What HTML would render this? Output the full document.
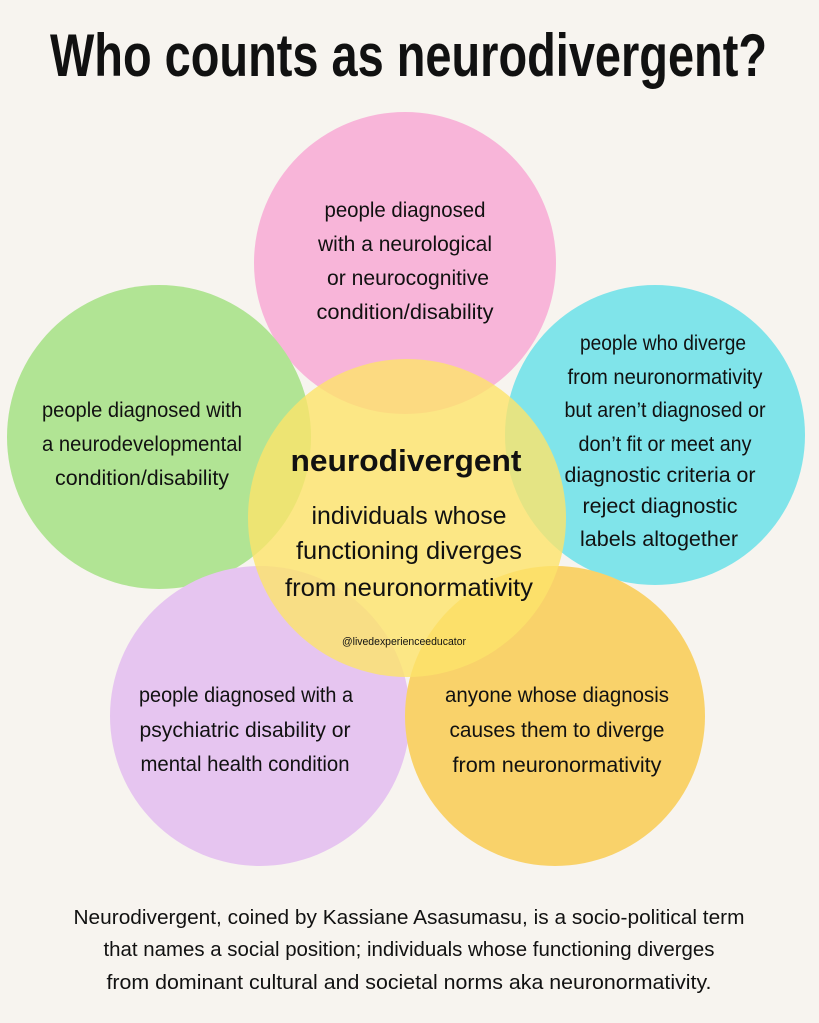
<!DOCTYPE html>
<html><head><meta charset="utf-8"><style>
html,body{margin:0;padding:0;background:#f7f4ef;}
svg{display:block;}
text{font-family:"Liberation Sans Narrow","Liberation Sans",sans-serif;fill:#111;}
</style></head><body>
<svg width="819" height="1023" viewBox="0 0 819 1023" xmlns="http://www.w3.org/2000/svg">
<rect width="819" height="1023" fill="#f7f4ef"/>
<circle cx="405" cy="263" r="151" fill="#f8b5d9"/>
<circle cx="159" cy="437" r="152" fill="#b1e494"/>
<circle cx="655" cy="435" r="150" fill="#80e4ea"/>
<circle cx="260" cy="716" r="150" fill="#e6c5f0"/>
<circle cx="555" cy="716" r="150" fill="#f9d26a"/>
<circle cx="407" cy="518" r="159" fill="#fde36a" fill-opacity="0.8"/>

<text x="50" y="76" font-size="60" font-weight="bold" textLength="717" lengthAdjust="spacingAndGlyphs">Who counts as neurodivergent?</text>

<g font-size="21" text-anchor="middle">
<text x="405" y="217" textLength="161" lengthAdjust="spacingAndGlyphs">people diagnosed</text>
<text x="405" y="251" textLength="174" lengthAdjust="spacingAndGlyphs">with a neurological</text>
<text x="408" y="285" textLength="162" lengthAdjust="spacingAndGlyphs">or neurocognitive</text>
<text x="405" y="319" textLength="177" lengthAdjust="spacingAndGlyphs">condition/disability</text>

<text x="142" y="417" textLength="200" lengthAdjust="spacingAndGlyphs">people diagnosed with</text>
<text x="142" y="451" textLength="200" lengthAdjust="spacingAndGlyphs">a neurodevelopmental</text>
<text x="142" y="485" textLength="174" lengthAdjust="spacingAndGlyphs">condition/disability</text>

<text x="663" y="350" textLength="166" lengthAdjust="spacingAndGlyphs">people who diverge</text>
<text x="665" y="384" textLength="195" lengthAdjust="spacingAndGlyphs">from neuronormativity</text>
<text x="665" y="417" textLength="201" lengthAdjust="spacingAndGlyphs">but aren’t diagnosed or</text>
<text x="665" y="451" textLength="173" lengthAdjust="spacingAndGlyphs">don’t fit or meet any</text>
<text x="660" y="482" textLength="191" lengthAdjust="spacingAndGlyphs">diagnostic criteria or</text>
<text x="660" y="513" textLength="155" lengthAdjust="spacingAndGlyphs">reject diagnostic</text>
<text x="659" y="546" textLength="158" lengthAdjust="spacingAndGlyphs">labels altogether</text>

<text x="246" y="702" textLength="214" lengthAdjust="spacingAndGlyphs">people diagnosed with a</text>
<text x="245" y="737" textLength="211" lengthAdjust="spacingAndGlyphs">psychiatric disability or</text>
<text x="245" y="771" textLength="209" lengthAdjust="spacingAndGlyphs">mental health condition</text>

<text x="557" y="702" textLength="224" lengthAdjust="spacingAndGlyphs">anyone whose diagnosis</text>
<text x="557" y="737" textLength="215" lengthAdjust="spacingAndGlyphs">causes them to diverge</text>
<text x="557" y="772" textLength="209" lengthAdjust="spacingAndGlyphs">from neuronormativity</text>
</g>

<g text-anchor="middle">
<text x="406" y="471" font-size="31" font-weight="bold" textLength="231" lengthAdjust="spacingAndGlyphs">neurodivergent</text>
<text x="409" y="524" font-size="25" textLength="195" lengthAdjust="spacingAndGlyphs">individuals whose</text>
<text x="409" y="559" font-size="25" textLength="226" lengthAdjust="spacingAndGlyphs">functioning diverges</text>
<text x="409" y="596" font-size="25" textLength="248" lengthAdjust="spacingAndGlyphs">from neuronormativity</text>
<text x="404" y="645" font-size="11" textLength="124" lengthAdjust="spacingAndGlyphs">@livedexperienceeducator</text>
</g>

<g font-size="20" text-anchor="middle">
<text x="409" y="924" textLength="671" lengthAdjust="spacingAndGlyphs">Neurodivergent, coined by Kassiane Asasumasu, is a socio-political term</text>
<text x="409" y="956" textLength="611" lengthAdjust="spacingAndGlyphs">that names a social position; individuals whose functioning diverges</text>
<text x="409" y="989" textLength="605" lengthAdjust="spacingAndGlyphs">from dominant cultural and societal norms aka neuronormativity.</text>
</g>
</svg>
</body></html>
